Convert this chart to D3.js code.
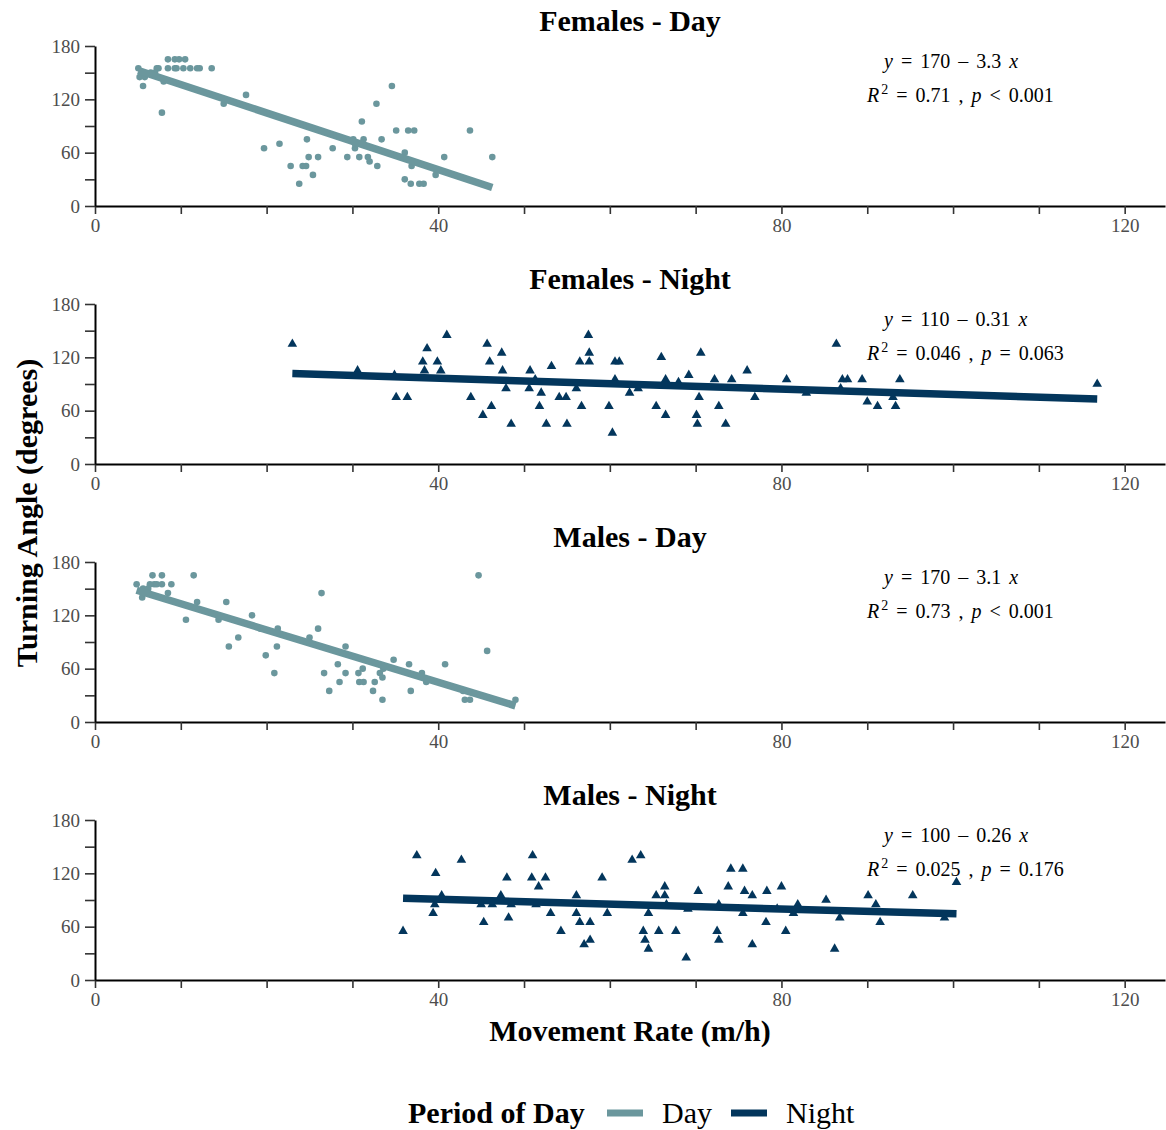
<!DOCTYPE html>
<html>
<head>
<meta charset="utf-8">
<script src="https://cdn.jsdelivr.net/npm/d3@7"></script>
<style>
body { margin: 0; background: #fff; }
text { font-family: "Liberation Serif", "Times New Roman", serif; }
</style>
</head>
<body>
<div id="chart"></div>
<script>
const width = 1166;
const height = 1130;

// ---- data ----
const panelTitles = ["Females - Day", "Females - Night", "Males - Day", "Males - Night"];
const panelPeriod = ["Day", "Night", "Day", "Night"];
const eqIntercept = ["170", "110", "170", "100"];
const eqSlope = ["3.3", "0.31", "3.1", "0.26"];
const eqR2 = ["0.71", "0.046", "0.73", "0.025"];
const eqP = ["< 0.001", "= 0.063", "< 0.001", "= 0.176"];

const xTicks = [0, 40, 80, 120];
const yTicks = [0, 60, 120, 180];

const femDayX = [8.5, 9.3, 9.8, 10.5,
    5.05, 7.2, 7.4, 8.5, 9.3, 9.5, 10.3, 11.1, 11.9, 12.2, 13.6,
    5.2, 5.8, 6.5, 7.0, 8.0, 5.6, 7.8, 15.0, 17.6,
    34.6, 32.8, 31.1, 35.1, 36.5, 37.2, 43.7,
    24.7, 30.1, 31.3, 33.4, 21.5, 30.3, 19.7, 27.7, 30.3, 36.1,
    24.9, 26.0, 29.4, 30.8, 31.8, 40.7, 46.3, 32.0,
    22.8, 24.2, 24.6, 32.9, 36.9, 25.4, 39.7, 36.1,
    23.8, 36.8, 37.8, 38.3];
const femDayY = [165, 165, 165, 165,
    155, 155, 155, 155, 155, 155, 155, 155, 155, 155, 155,
    145, 145, 150, 150, 140, 135, 105, 115, 125,
    135, 115, 95, 85, 85, 85, 85,
    75, 75, 75, 75, 70, 70, 65, 65, 65, 60,
    55, 55, 55, 55, 55, 55, 55, 50,
    45, 45, 45, 45, 45, 35, 35, 30,
    25, 25, 25, 25];

const femNightX = [23.0, 41.0, 38.7, 45.7, 47.4, 57.5, 57.6, 70.6, 66.0,
    38.2, 39.9, 46.0, 56.5, 57.6, 60.6, 61.1,
    38.4, 40.3, 47.5, 50.7, 30.6, 53.2, 69.2, 66.5, 60.6, 72.2, 34.9, 51.3, 68.0,
    47.9, 50.6, 56.1, 63.3, 62.3, 52.0,
    35.1, 36.4, 43.8, 54.1, 54.9, 70.4,
    46.2, 51.8, 56.7, 59.9, 65.4, 72.7,
    45.2, 66.5, 70.1,
    48.5, 52.6, 55.0, 70.2, 60.3,
    76.0, 74.2, 80.6, 87.1, 87.7, 89.4, 93.8, 86.4, 116.8, 76.9, 82.9, 86.9, 90.0, 91.2, 93.3, 93.0, 73.5];
const femNightY = [135, 145, 130, 135, 125, 145, 125, 125, 120,
    115, 115, 115, 115, 115, 115, 115,
    105, 105, 105, 105, 105, 110, 100, 95, 95, 95, 100, 95, 92,
    85, 85, 85, 85, 80, 80,
    75, 75, 75, 75, 75, 75,
    65, 65, 65, 65, 65, 65,
    55, 55, 55,
    45, 45, 45, 45, 35,
    105, 95, 95, 95, 95, 95, 95, 135, 90, 75, 80, 85, 70, 65, 65, 75, 45];

const maleDayX = [6.7, 7.8, 11.5, 44.7,
    4.85, 6.4, 6.9, 7.2, 7.8, 8.9,
    5.6, 6.2, 5.5, 8.5, 26.4,
    11.9, 15.3, 10.6, 14.4, 18.3,
    19.3, 21.3, 26.0, 16.7, 25.0,
    15.6, 21.2, 29.2, 19.9, 20.9, 45.7,
    34.8, 36.6, 40.8, 28.3,
    26.7, 29.2, 30.7, 31.2, 33.2, 38.1, 33.6, 33.5,
    38.6, 30.8, 31.3, 32.6, 28.5,
    27.3, 32.4, 36.8, 33.5, 42.9, 43.1, 43.7, 49.0];
const maleDayY = [165, 165, 165, 165,
    155, 155, 155, 155, 155, 155,
    150, 150, 140, 145, 145,
    135, 135, 115, 115, 120,
    105, 105, 105, 95, 95,
    85, 85, 85, 75, 55, 80,
    70, 65, 65, 65,
    55, 55, 55, 60, 55, 55, 60, 50,
    45, 45, 45, 45, 45,
    35, 35, 35, 25, 35, 25, 25, 25];

const maleNightX = [35.9, 37.5, 42.7, 39.7, 40.4, 39.6, 39.4,
    48.0, 47.3, 45.0, 46.3, 48.5, 45.3, 48.2,
    51.0, 50.9, 52.5, 51.7, 51.4, 53.1, 54.3,
    56.1, 56.1, 56.5, 57.7, 57.0, 57.7, 59.1, 59.7,
    62.6, 63.6, 63.9, 64.1, 64.5, 64.5, 65.4, 66.4, 66.4, 66.6, 65.7, 67.7, 68.9, 70.3, 69.1,
    74.1, 75.5, 73.8, 75.7, 76.6, 78.3, 80.0, 72.7, 75.5, 78.2, 72.5, 72.7, 76.6, 80.5, 79.5,
    81.4, 81.9, 85.2, 86.8, 86.2, 90.1, 91.0, 91.5, 95.3, 99.0, 100.4];
const maleNightY = [55, 140, 135, 120, 95, 85, 75,
    115, 95, 85, 85, 85, 65, 70,
    140, 115, 115, 105, 85, 75, 55,
    95, 75, 65, 65, 40, 45, 115, 75,
    135, 140, 55, 45, 35, 75, 95, 105, 95, 85, 55, 55, 25, 100, 80,
    125, 125, 105, 100, 95, 100, 105, 85, 75, 65, 55, 45, 40, 55, 80,
    75, 85, 90, 70, 35, 95, 85, 65, 95, 70, 110];

const panelX = [femDayX, femNightX, maleDayX, maleNightX];
const panelY = [femDayY, femNightY, maleDayY, maleNightY];

const colors = { Day: "#6b979d", Night: "#03365c" };

// ---- layout ----
const plotLeft = 95;
const plotRight = 1165;
const panelTop0 = 46;
const panelH = 160;
const panelStep = 258;

const svg = d3.select("#chart")
    .append("svg")
    .attr("width", width)
    .attr("height", height)
    .style("background", "#fff");

const xScale = d3.scaleLinear()
    .domain([0, 124.7])
    .range([plotLeft, plotRight]);

// least squares line, as the smoother in the original
function fit(xs, ys) {
    const mx = d3.mean(xs), my = d3.mean(ys);
    let sxy = 0, sxx = 0;
    xs.forEach((x, i) => { sxy += (x - mx) * (ys[i] - my); sxx += (x - mx) * (x - mx); });
    const b = sxy / sxx;
    return { a: my - b * mx, b: b };
}

panelTitles.forEach((title, i) => {
    const top = panelTop0 + i * panelStep;
    const bottom = top + panelH;
    const period = panelPeriod[i];
    const color = colors[period];
    const xs = panelX[i], ys = panelY[i];
    const data = xs.map((x, j) => ({ x: x, y: ys[j] }));

    const yScale = d3.scaleLinear().domain([0, 180]).range([bottom, top]);

    svg.append("text")
        .attr("x", (plotLeft + plotRight) / 2)
        .attr("y", top - 15)
        .attr("text-anchor", "middle")
        .style("font-size", "30px")
        .style("font-weight", "bold")
        .text(title);

    const xAxis = d3.axisBottom(xScale)
        .tickValues(d3.range(0, 121, 10))
        .tickFormat(d => xTicks.includes(d) ? d : "")
        .tickSize(8)
        .tickSizeOuter(0)
        .tickPadding(5);
    const xg = svg.append("g")
        .attr("transform", `translate(0, ${bottom})`)
        .call(xAxis);

    const yAxis = d3.axisLeft(yScale)
        .tickValues(d3.range(0, 181, 30))
        .tickFormat(d => yTicks.includes(d) ? d : "")
        .tickSize(10)
        .tickSizeOuter(0)
        .tickPadding(5);
    const yg = svg.append("g")
        .attr("transform", `translate(${plotLeft}, 0)`)
        .call(yAxis);

    [xg, yg].forEach(g => {
        g.select(".domain").attr("stroke", "#000").attr("stroke-width", 2);
        g.selectAll(".tick line").attr("stroke", "#333").attr("stroke-width", 1.6);
        g.selectAll(".tick text")
            .attr("fill", "#4d4d4d")
            .style("font-size", "19px")
            .style("font-family", "'Liberation Serif', 'Times New Roman', serif");
    });

    if (period === "Day") {
        svg.append("g").selectAll("circle")
            .data(data)
            .enter()
            .append("circle")
            .attr("cx", d => xScale(d.x))
            .attr("cy", d => yScale(d.y))
            .attr("r", 3.3)
            .attr("fill", color);
    } else {
        const tri = d3.symbol().type(d3.symbolTriangle).size(40);
        svg.append("g").selectAll("path")
            .data(data)
            .enter()
            .append("path")
            .attr("d", tri)
            .attr("transform", d => `translate(${xScale(d.x)}, ${yScale(d.y)})`)
            .attr("fill", color);
    }

    const f = fit(xs, ys);
    const x0 = d3.min(xs), x1 = d3.max(xs);
    svg.append("line")
        .attr("x1", xScale(x0))
        .attr("x2", xScale(x1))
        .attr("y1", yScale(f.a + f.b * x0))
        .attr("y2", yScale(f.a + f.b * x1))
        .attr("stroke", color)
        .attr("stroke-width", 7.5);

    // equation labels (plotmath-like spacing)
    const eq1 = svg.append("text")
        .attr("x", 884)
        .attr("y", top + 22)
        .style("font-size", "20px")
        .style("word-spacing", "3px");
    eq1.append("tspan").style("font-style", "italic").text("y");
    eq1.append("tspan").text(` = ${eqIntercept[i]} \u2013 ${eqSlope[i]} `);
    eq1.append("tspan").style("font-style", "italic").text("x");

    const eq2 = svg.append("text")
        .attr("x", 867)
        .attr("y", top + 56)
        .style("font-size", "20px")
        .style("word-spacing", "3px");
    eq2.append("tspan").style("font-style", "italic").text("R");
    eq2.append("tspan").attr("dx", 2).attr("dy", -8).style("font-size", "14px").text("2");
    eq2.append("tspan").attr("dy", 8).text(` = ${eqR2[i]} , `);
    eq2.append("tspan").style("font-style", "italic").text("p");
    eq2.append("tspan").text(` ${eqP[i]}`);
});

svg.append("text")
    .attr("x", (plotLeft + plotRight) / 2)
    .attr("y", 1041)
    .attr("text-anchor", "middle")
    .style("font-size", "30px")
    .style("font-weight", "bold")
    .text("Movement Rate (m/h)");

svg.append("text")
    .attr("transform", "translate(37, 513) rotate(-90)")
    .attr("text-anchor", "middle")
    .style("font-size", "30px")
    .style("font-weight", "bold")
    .text("Turning Angle (degrees)");

// legend
const legendY = 1113;
svg.append("text")
    .attr("x", 408)
    .attr("y", legendY + 10)
    .style("font-size", "30px")
    .style("font-weight", "bold")
    .text("Period of Day");

const legendItems = [
    { key: "Day", x: 607 },
    { key: "Night", x: 731 }
];
const legend = svg.selectAll(".legend")
    .data(legendItems)
    .enter()
    .append("g")
    .attr("class", "legend");

legend.append("rect")
    .attr("x", d => d.x)
    .attr("y", legendY - 3.5)
    .attr("width", 36)
    .attr("height", 7)
    .attr("fill", d => colors[d.key]);

legend.append("text")
    .attr("x", d => d.x + 55)
    .attr("y", legendY + 10)
    .style("font-size", "30px")
    .text(d => d.key);
</script>
</body>
</html>
